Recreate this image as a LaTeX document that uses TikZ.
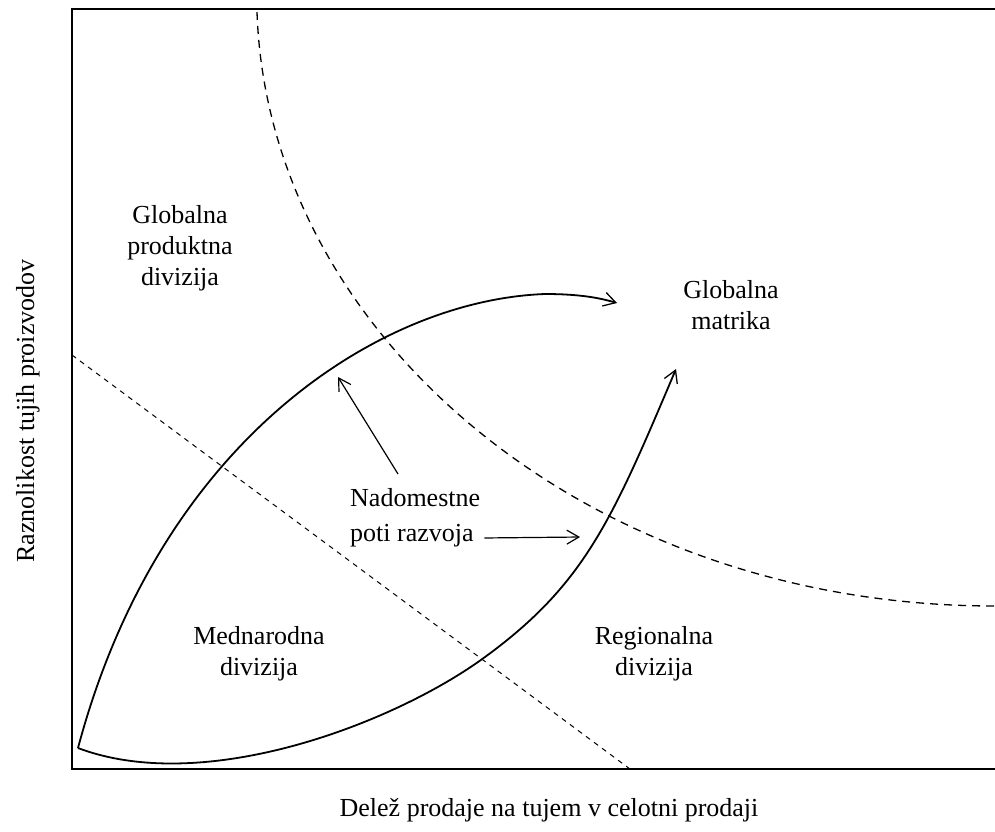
\documentclass[tikz,border=0pt]{standalone}
\usepackage{fontspec}
\setmainfont{Liberation Serif}
\usetikzlibrary{arrows.meta}
\begin{document}
\begin{tikzpicture}[x=1pt,y=-1pt,
  lbl/.style={font=\fontsize{26}{31}\selectfont, align=center, inner sep=0pt},
  frame/.style={line width=1.6pt},
  route/.style={line width=1.8pt, -{Straight Barb[length=12pt,width=14pt,line width=1.3pt]}},
  guide/.style={line width=1.3pt, dash pattern=on 8pt off 6pt},
  split/.style={line width=1pt, dash pattern=on 5pt off 5pt},
  pointer/.style={line width=1.2pt, -{Straight Barb[length=12pt,width=14pt]}}]
\useasboundingbox (0,0) rectangle (995,831);

% chart frame (open on the right)
\draw[frame] (995,9) -- (72,9) -- (72,769) -- (995,769);

% axis captions
\node[lbl, anchor=base] (xcap) at (549,816) {Delež prodaje na tujem v celotni prodaji};
\node[lbl, anchor=base, rotate=90] (ycap) at (34,411) {Raznolikost tujih proizvodov};

% boundary between the global and the divisional structures
\draw[guide] (257,12) .. controls (268,335) and (587,606) .. (995,606);
% boundary between product and regional emphasis
\draw[split] (72,355) -- (630,769);

% development routes
\coordinate (origin) at (78,748);
\coordinate (endA) at (617,303);
\coordinate (endB) at (676,369);
\draw[route] (origin) .. controls (160,440) and (380,300) .. (545,294)
  .. controls (580,294) and (600,298) .. (endA);
\draw[route] (origin) .. controls (205,796) and (395,723) .. (485,657)
  .. controls (585,584) and (612,520) .. (endB);

% region labels
\node[lbl] (gpd) at (180,248) {Globalna\\produktna\\divizija};
\node[lbl] (gm) at (731,305) {Globalna\\matrika};
\node[lbl] (md) at (259,654) {Mednarodna\\divizija};
\node[lbl] (rd) at (654,654) {Regionalna\\divizija};
\node[lbl, align=left, anchor=north west, font=\fontsize{26}{35}\selectfont] (nad) at (350,488) {Nadomestne\\poti razvoja};

% pointers from the caption to the two routes
\coordinate (hitA) at (338,377);
\coordinate (hitB) at (580,537);
\draw[pointer] ([shift={(48,-14)}]nad.north west) -- (hitA);
\draw[pointer] ([shift={(4,-9)}]nad.south east) -- (hitB);
\end{tikzpicture}
\end{document}
